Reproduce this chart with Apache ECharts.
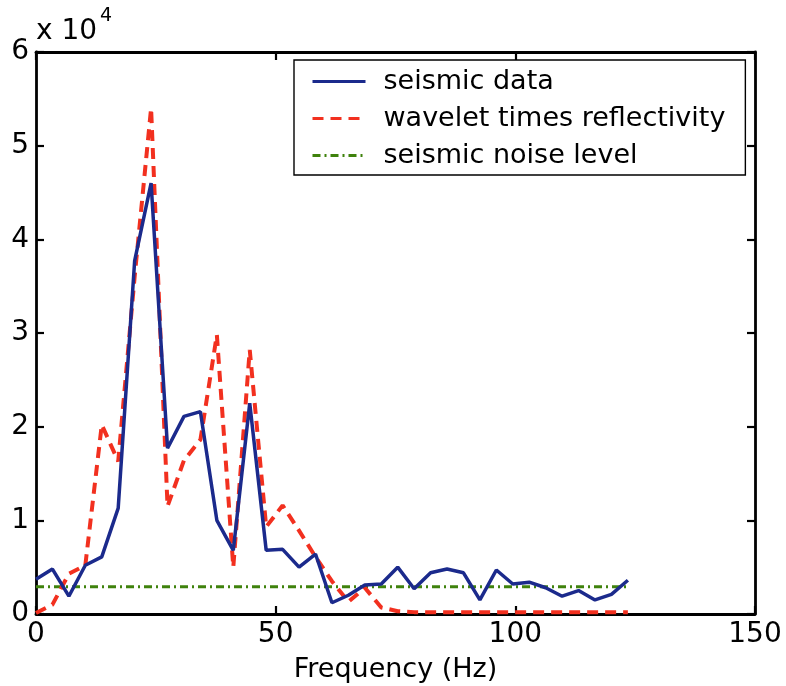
<!DOCTYPE html>
<html>
<head>
<meta charset="utf-8">
<script src="https://cdn.jsdelivr.net/npm/echarts@6/dist/echarts.min.js"></script>
<style>
  html, body { margin: 0; padding: 0; background: #fff; }
  #chart { width: 786px; height: 686px; }
</style>
</head>
<body>
<div id="chart"></div>
<script>
// Frequency samples (Hz)
const freq = [0, 3.43, 6.86, 10.29, 13.72, 17.15, 20.58, 24.01, 27.44, 30.87, 34.3, 37.73,
  41.16, 44.59, 48.02, 51.45, 54.88, 58.31, 61.74, 65.17, 68.6, 72.03, 75.46, 78.89,
  82.32, 85.75, 89.18, 92.61, 96.04, 99.47, 102.9, 106.33, 109.76, 113.19, 116.62,
  120.05, 123.48];

// Amplitude spectrum of the recorded seismic trace
const seismicData = [3700, 4800, 1900, 5200, 6100, 11300, 37700, 46000, 17700, 21100,
  21600, 10000, 6800, 22500, 6800, 6900, 5000, 6400, 1200, 2000, 3100, 3200, 5000,
  2700, 4400, 4800, 4400, 1500, 4700, 3200, 3400, 2800, 1900, 2500, 1500, 2100, 3600];

// Spectrum of the modelled trace (wavelet times reflectivity)
const waveletReflectivity = [100, 1000, 4300, 5200, 20200, 16300, 36000, 54000, 11500,
  16400, 18600, 29800, 5000, 28200, 9300, 11600, 8900, 6100, 3500, 1300, 2800, 700, 300,
  200, 200, 200, 200, 200, 200, 200, 200, 200, 200, 200, 200, 200, 200];

// Estimated noise floor
const noiseLevel = 2900;

const yTicks = ['0', '1', '2', '3', '4', '5', '6'];

const FONT = 'DejaVu Sans';
const pair = (xs, ys) => xs.map((x, i) => [x, ys[i]]);

const axisLine = { show: true, onZero: false, lineStyle: { color: '#000', width: 2.8 } };
const axisTick = { show: true, inside: true, length: 8, lineStyle: { color: '#000', width: 2.2 } };

const chart = echarts.init(document.getElementById('chart'), null, { renderer: 'canvas' });

chart.setOption({
  backgroundColor: '#fff',
  animation: false,
  grid: { left: 36, right: 31, top: 52, bottom: 72, containLabel: false, outerBoundsMode: 'none' },
  xAxis: [
    {
      type: 'value', min: 0, max: 150, interval: 50, position: 'bottom',
      axisLine, axisTick, splitLine: { show: false },
      axisLabel: { color: '#000', fontSize: 28, fontFamily: FONT, margin: 7 },
      name: 'Frequency (Hz)', nameLocation: 'middle', nameGap: 42,
      nameTextStyle: { color: '#000', fontSize: 27, fontFamily: FONT }
    },
    {
      type: 'value', min: 0, max: 150, interval: 50, position: 'top',
      axisLine, axisTick, splitLine: { show: false }, axisLabel: { show: false }
    }
  ],
  yAxis: [
    {
      type: 'value', min: 0, max: 60000, interval: 10000, position: 'left',
      axisLine, axisTick, splitLine: { show: false },
      axisLabel: {
        color: '#000', fontSize: 28, fontFamily: FONT, margin: 7,
        formatter: (v) => yTicks[Math.round(v / 10000)]
      }
    },
    {
      type: 'value', min: 0, max: 60000, interval: 10000, position: 'right',
      axisLine, axisTick, splitLine: { show: false }, axisLabel: { show: false }
    }
  ],
  legend: {
    orient: 'vertical', left: 294, top: 60,
    backgroundColor: '#fff', borderColor: '#000', borderWidth: 1.4,
    padding: [8, 20, 6, 17],
    itemWidth: 53, itemHeight: 14, itemGap: 10,
    itemStyle: { opacity: 0 },
    lineStyle: { width: 3 },
    textStyle: { color: '#000', fontSize: 27, fontFamily: FONT, padding: [0, 0, 0, 13] },
    data: ['seismic data', 'wavelet times reflectivity', 'seismic noise level']
  },
  series: [
    {
      name: 'seismic data', type: 'line', data: pair(freq, seismicData),
      symbol: 'none', lineStyle: { color: '#1b2a8c', width: 3.5 }, itemStyle: { color: '#1b2a8c' }, z: 4
    },
    {
      name: 'wavelet times reflectivity', type: 'line', data: pair(freq, waveletReflectivity),
      symbol: 'none', lineStyle: { color: '#f2301f', width: 4, type: [11, 7] }, itemStyle: { color: '#f2301f' }, z: 3
    },
    {
      name: 'seismic noise level', type: 'line',
      data: [[freq[0], noiseLevel], [freq[freq.length - 1], noiseLevel]],
      symbol: 'none', lineStyle: { color: '#3f820c', width: 3, type: [8, 4, 2, 4] }, itemStyle: { color: '#3f820c' }, z: 2
    }
  ],
  graphic: [
    { type: 'text', x: 36, y: 32, style: { text: 'x 10', fill: '#000', font: '28px "DejaVu Sans"', verticalAlign: 'middle' } },
    { type: 'text', x: 100, y: 16, style: { text: '4', fill: '#000', font: '19px "DejaVu Sans"', verticalAlign: 'middle' } }
  ]
});
</script>
</body>
</html>
